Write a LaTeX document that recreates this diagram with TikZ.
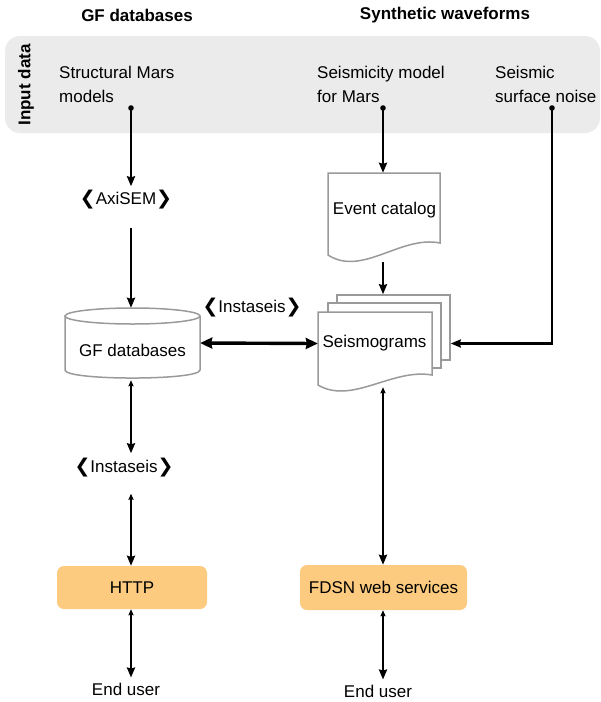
\documentclass[tikz,border=0pt]{standalone}
\usepackage{fontspec}
\setmainfont{Liberation Sans}
\newfontfamily\chevfont{DejaVu Sans}
\newcommand\lchev{{\chevfont\fontsize{19}{19}\selectfont ❮}}
\newcommand\rchev{{\chevfont\fontsize{19}{19}\selectfont ❯}}
\usetikzlibrary{arrows.meta}
\definecolor{bggray}{HTML}{EBEBEB}
\definecolor{boxorange}{HTML}{FCCB80}
\definecolor{shapegray}{HTML}{9A9A9A}
\begin{document}
\begin{tikzpicture}[x=1pt,y=-1pt,
  font=\fontsize{17}{24}\selectfont,
  txt/.style={inner sep=2pt},
  hdr/.style={font=\fontsize{17}{24}\selectfont\bfseries},
  shp/.style={draw=shapegray, line width=1.5pt, fill=white},
  obox/.style={fill=boxorange, rounded corners=7pt, inner sep=0pt},
  arr/.style={line width=2.4pt, -{Stealth[length=10pt,width=8pt,inset=1pt]}},
  darr/.style={line width=2.4pt, {Stealth[length=6pt,width=5pt,inset=0.5pt]}-{Stealth[length=10pt,width=8pt,inset=1pt]}},
  bigarr/.style={line width=3.4pt, {Stealth[length=12pt,width=11pt,inset=1pt]}-{Stealth[length=12pt,width=11pt,inset=1pt]}}
]
\useasboundingbox (0,0) rectangle (601,702);

% background band
\fill[bggray, rounded corners=15pt] (5,36) rectangle (600,133);

% headers
\node[hdr] (hGF) at (137,15) {GF databases};
\node[hdr] (hSW) at (445,15) {Synthetic waveforms};
\node[hdr, rotate=90] (inp) at (26,85) {Input data};

% input texts
\node[txt, anchor=west, align=left] (struct) at (57,84) {Structural Mars\\models};
\node[txt, anchor=west, align=left] (seismod) at (315,84) {Seismicity model\\for Mars};
\node[txt, anchor=west, align=left] (noise) at (493,84) {Seismic\\surface noise};

\coordinate (dot1) at (131,108);
\coordinate (dot2) at (383,108);
\coordinate (dot3) at (552,108);
\fill (dot1) circle (2.8pt);
\fill (dot2) circle (2.8pt);
\fill (dot3) circle (2.8pt);

% AxiSEM label
\node[txt] (axisem) at (126,200) {\lchev AxiSEM\rchev};

% cylinder GF databases
\draw[shp] (65,316) -- (65,370) .. controls (65,380.7) and (200,380.7) .. (200,370) -- (200,316);
\draw[shp, fill=none] (132.5,316) ellipse [x radius=67.5, y radius=8];
\node[minimum width=135, minimum height=70, inner sep=0] (cyl) at (132.5,343) {};
\node at (132.5,350) {GF databases};

% Instaseis labels
\node[txt] (insTop) at (252,308) {\lchev Instaseis\rchev};
\node[txt] (insLow) at (124,468) {\lchev Instaseis\rchev};

% Event catalog document
\draw[shp] (328,173) -- (440,173) -- (440,243) .. controls (401,235) and (362,277) .. (328,255) -- cycle;
\node[minimum width=112, minimum height=70, inner sep=0] (evcat) at (384,208) {};
\node at (384.5,210) {Event catalog};

% Seismograms stack
\node[shp, minimum width=113, minimum height=65, inner sep=0] (seisA) at (393.5,327.5) {};
\node[shp, minimum width=113, minimum height=65, inner sep=0] (seisB) at (384.5,335.5) {};
\draw[shp] (318,312) -- (432,312) -- (432,375) .. controls (392,368) and (352,405) .. (318,385) -- cycle;
\node[minimum width=114, minimum height=63, inner sep=0] (seis) at (375,343.5) {};
\node at (374.5,343) {Seismograms};

% orange boxes
\node[obox, minimum width=150, minimum height=43] (http) at (132,587.5) {HTTP};
\node[obox, minimum width=167, minimum height=45] (fdsn) at (383.5,587.5) {FDSN web services};

% end users
\node[txt] (end1) at (126,689) {End user};
\node[txt] (end2) at (378,691) {End user};

% connectors left column
\draw[arr, shorten >=2pt] (dot1) -- (dot1 |- axisem.north);
\draw[arr, shorten <=16pt] (dot1 |- axisem.south) -- (dot1 |- cyl.north);
\draw[darr, shorten <=2pt, shorten >=3pt] (dot1 |- cyl.south) -- (dot1 |- insLow.north);
\draw[darr, shorten <=14pt] (dot1 |- insLow.south) -- (dot1 |- http.north);
\draw[darr, shorten >=3pt] (dot1 |- http.south) -- (dot1 |- end1.north);

% connectors right column
\draw[arr] (dot2) -- (dot2 |- evcat.north);
\draw[arr, shorten <=19pt] (dot2 |- evcat.south) -- (dot2 |- seisA.north);
\draw[arr] (dot3) -- (dot3 |- seis.east) -- (seisA.east |- seis.east);
\draw[bigarr] (cyl.east) -- (seis.west);
\draw[darr, shorten <=12pt] (dot2 |- seis.south) -- (dot2 |- fdsn.north);
\draw[darr, shorten >=3pt] (dot2 |- fdsn.south) -- (dot2 |- end2.north);
\end{tikzpicture}
\end{document}
